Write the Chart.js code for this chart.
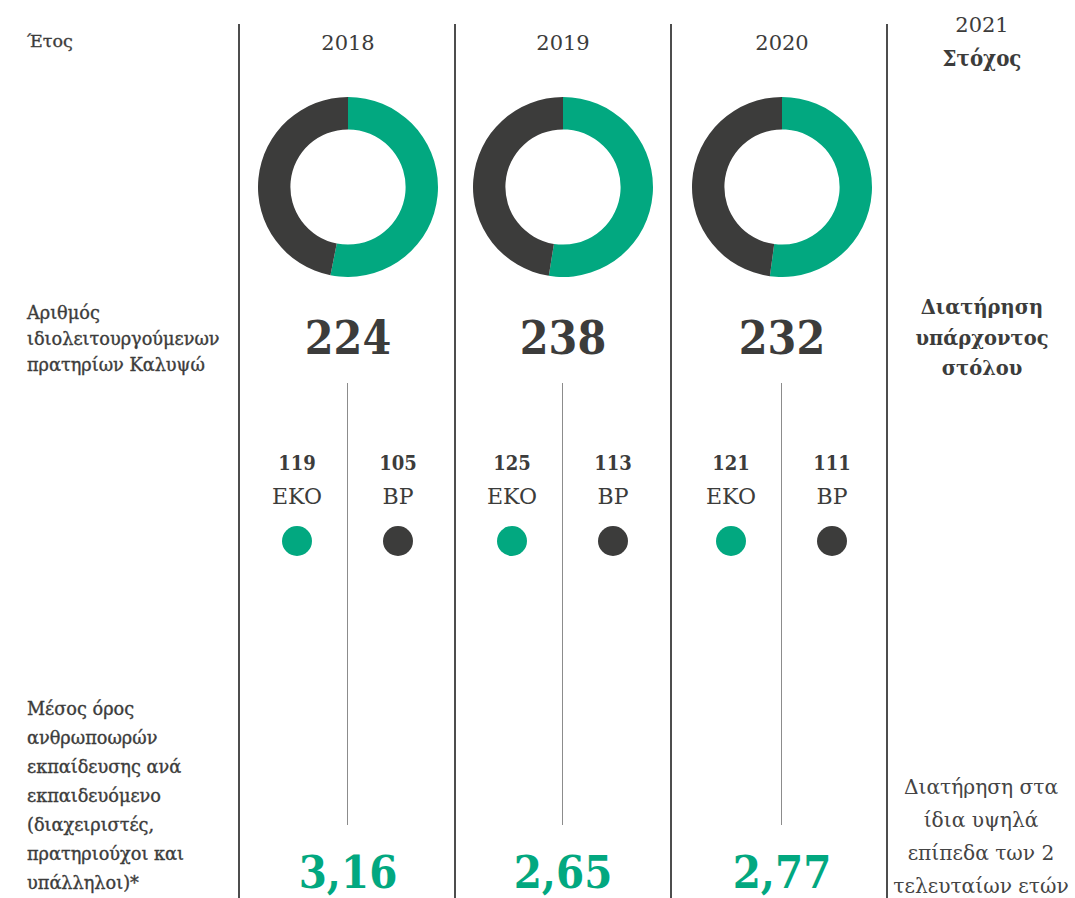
<!DOCTYPE html>
<html>
<head>
<meta charset="utf-8">
<script src="https://cdn.jsdelivr.net/npm/chart.js@4/dist/chart.umd.min.js"></script>
<style>
  html, body { margin:0; padding:0; background:#fff; }
  #wrap { position:relative; width:1075px; height:898px; overflow:hidden; font-family:"DejaVu Serif", serif; color:#3c3c3b; }
  .t { position:absolute; white-space:nowrap; transform:translate(-50%,-50%); text-align:center; }
  .l { position:absolute; white-space:nowrap; -webkit-text-stroke:0.35px #3c3c3b; }
  .c { font-family:"DejaVu Serif Condensed", "DejaVu Serif", serif; }
  .vline { position:absolute; top:24px; bottom:0; width:1.5px; background:#4d4d4d; }
  .thin { position:absolute; width:1px; background:#8c8c8c; }
  .dot { position:absolute; width:30px; height:30px; border-radius:50%; transform:translate(-50%,-50%); }
  canvas.d { position:absolute; }
</style>
</head>
<body>
<div id="wrap"></div>
<script>
const years = ['2018', '2019', '2020'];
const seriesLabels = ['EKO', 'BP'];
const ekoStations = [119, 125, 121];
const bpStations = [105, 113, 111];
const totalStations = [224, 238, 232];
const trainingHours = ['3,16', '2,65', '2,77'];
const targetYear = '2021';
const targetTitle = 'Στόχος';
const rowTitleYear = 'Έτος';
const rowTitleStations = ['Αριθμός', 'ιδιολειτουργούμενων', 'πρατηρίων Καλυψώ'];
const rowTitleTraining = ['Μέσος όρος', 'ανθρωποωρών', 'εκπαίδευσης ανά', 'εκπαιδευόμενο', '(διαχειριστές,', 'πρατηριούχοι και', 'υπάλληλοι)*'];
const targetStations = ['Διατήρηση', 'υπάρχοντος', 'στόλου'];
const targetTraining = ['Διατήρηση στα', 'ίδια υψηλά', 'επίπεδα των 2', 'τελευταίων ετών'];
const seriesColors = ['#02a880', '#3c3c3b'];

const wrap = document.getElementById('wrap');
function add(cls, html, style) {
  const e = document.createElement('div');
  e.className = cls; e.innerHTML = html;
  Object.assign(e.style, style || {});
  wrap.appendChild(e); return e;
}

// layout
const colX = [348, 563, 782];
const sepX = [238, 454, 670, 886];
sepX.forEach(x => add('vline', '', { left: x + 'px' }));

add('l', rowTitleYear, { left: '27px', top: '31px', fontSize: '17.5px' });
rowTitleStations.forEach((s, i) => add('l', s, { left: '27px', top: (303 + i * 26) + 'px', fontSize: '17.7px' }));
rowTitleTraining.forEach((s, i) => add('l', s, { left: '27px', top: (699 + i * 29) + 'px', fontSize: '17.7px' }));

add('t', targetYear, { left: '982px', top: '25px', fontSize: '21px' });
add('t c', targetTitle, { left: '982px', top: '58px', fontSize: '22px', fontWeight: 'bold' });
targetStations.forEach((s, i) => add('t', s, { left: '982px', top: (307 + i * 30.5) + 'px', fontSize: '19.5px', fontWeight: 'bold' }));
targetTraining.forEach((s, i) => add('t', s, { left: '981px', top: (787 + i * 33) + 'px', fontSize: '20.2px', color: '#444' }));

years.forEach((y, i) => {
  const cx = colX[i];
  add('t', y, { left: cx + 'px', top: '43px', fontSize: '21px' });
  add('t c', String(totalStations[i]), { left: cx + 'px', top: '338px', fontSize: '46px', fontWeight: 'bold' });
  add('thin', '', { left: (cx - 1) + 'px', top: '383px', height: '442px' });
  const sub = [[ekoStations[i], seriesLabels[0], seriesColors[0], cx - 51], [bpStations[i], seriesLabels[1], seriesColors[1], cx + 50]];
  sub.forEach(([v, lab, col, x]) => {
    add('t c', String(v), { left: x + 'px', top: '463px', fontSize: '20px', fontWeight: 'bold' });
    add('t', lab, { left: x + 'px', top: '496px', fontSize: '22px' });
    add('dot', '', { left: x + 'px', top: '541px', background: col });
  });
  add('t c', trainingHours[i], { left: cx + 'px', top: '872px', fontSize: '45px', fontWeight: 'bold', color: seriesColors[0] });

  const c = document.createElement('canvas');
  c.className = 'd'; c.width = 180; c.height = 180;
  c.style.left = (cx - 90) + 'px'; c.style.top = '97px';
  c.style.width = '180px'; c.style.height = '180px';
  wrap.appendChild(c);
  new Chart(c, {
    type: 'doughnut',
    data: { labels: seriesLabels, datasets: [{ data: [ekoStations[i], bpStations[i]], backgroundColor: seriesColors, borderWidth: 0 }] },
    options: {
      responsive: false, animation: false, cutout: '64%',
      plugins: { legend: { display: false }, tooltip: { enabled: false } },
      layout: { padding: 0 }
    }
  });
});
</script>
</body>
</html>
